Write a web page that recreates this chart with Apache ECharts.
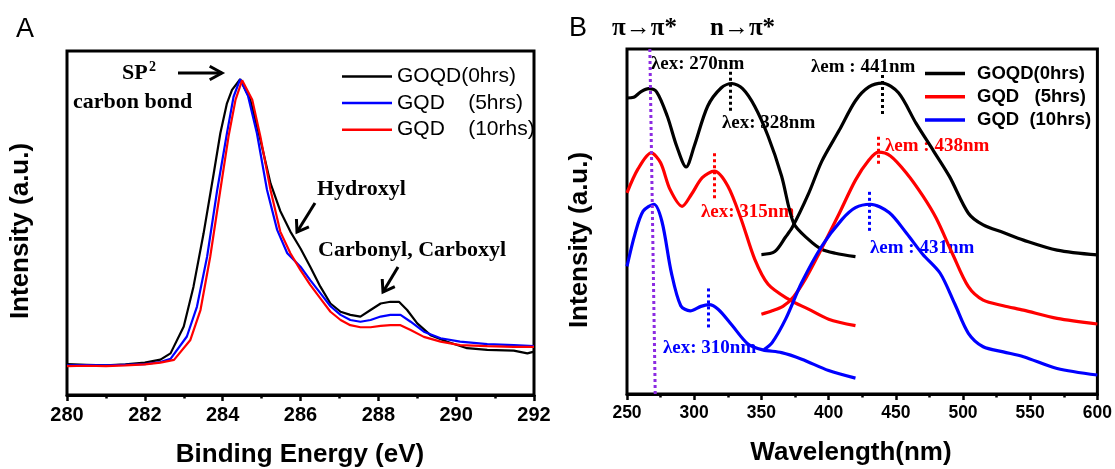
<!DOCTYPE html>
<html><head><meta charset="utf-8">
<script src="https://cdn.jsdelivr.net/npm/echarts/dist/echarts.min.js"></script>
<style>html,body{margin:0;padding:0;background:#fff}#c{width:1115px;height:469px}</style>
</head><body><div id="c"></div>
<script>
// ---------- Panel A : XPS C1s ----------
const aTicks = [280, 282, 284, 286, 288, 290, 292];
const aNames = ['GOQD(0hrs)', 'GQD    (5hrs)', 'GQD    (10rhs)'];
const aEnergyBlack = [280, 280.5, 281, 281.5, 282, 282.4, 282.66, 283.0, 283.25, 283.51, 283.77, 283.94, 284.11, 284.24, 284.45, 284.71, 284.97, 285.23, 285.48, 285.74, 286.0, 286.25, 286.51, 286.77, 287.03, 287.28, 287.54, 287.8, 288.06, 288.31, 288.53, 288.74, 289.0, 289.34, 289.77, 290.28, 290.8, 291.48, 291.83, 292];
const aIntBlack    = [9.0, 8.8, 8.6, 8.9, 9.4, 10.3, 12.1, 19.9, 31.5, 47, 64.4, 76.1, 84.8, 88.7, 91.8, 85.8, 74.1, 61.5, 53.5, 47.5, 42.6, 37.3, 31.5, 26.6, 24.2, 23.3, 22.8, 24.7, 26.6, 27.1, 27.1, 24.7, 20.8, 17.4, 15.5, 13.6, 13.1, 12.9, 12.1, 12.6];
const aEnergyBlue  = [280, 280.5, 281, 281.5, 282, 282.4, 282.66, 283.08, 283.34, 283.6, 283.86, 284.11, 284.28, 284.45, 284.65, 284.88, 285.14, 285.4, 285.66, 286.0, 286.25, 286.51, 286.77, 287.03, 287.28, 287.54, 287.8, 288.06, 288.31, 288.57, 288.83, 289.17, 289.6, 290.1, 290.8, 291.48, 292];
const aIntBlue     = [8.6, 8.7, 8.6, 8.8, 9.0, 9.6, 10.5, 17, 25.7, 40.2, 59.6, 76.1, 86.7, 91.8, 87.0, 76.1, 59.6, 48, 41.2, 37.3, 33.4, 29.6, 25.8, 23.3, 21.8, 21.3, 21.8, 22.8, 23.3, 23.3, 21.3, 18.4, 16.5, 15.5, 14.8, 14.5, 14.2];
const aEnergyRed   = [280, 280.5, 281, 281.5, 282, 282.4, 282.75, 283.17, 283.43, 283.68, 283.94, 284.15, 284.33, 284.5, 284.76, 284.97, 285.23, 285.48, 285.74, 286.0, 286.25, 286.51, 286.77, 287.03, 287.28, 287.54, 287.8, 288.06, 288.31, 288.57, 288.83, 289.17, 289.6, 290.1, 290.8, 291.48, 292];
const aIntRed      = [8.4, 8.5, 8.4, 8.6, 8.9, 9.4, 10.2, 16, 24.7, 40.2, 59.6, 75.1, 85.8, 91.5, 85.8, 75.1, 59.6, 47.5, 41.2, 36.3, 32, 28.1, 24.2, 21.8, 20.3, 19.7, 19.7, 20.1, 20.3, 20.3, 18.9, 16.9, 15.5, 14.5, 14.2, 14.0, 14.0];

// ---------- Panel B : PLE / PL ----------
const bTicks = [250, 300, 350, 400, 450, 500, 550, 600];
const bNames = ['GOQD(0hrs)', 'GQD   (5hrs)', 'GQD  (10hrs)'];
const bWaveExBlack = [250, 255, 260, 266, 272, 280, 287, 294, 300, 310, 320, 328, 336, 345, 355, 365, 374, 385, 395, 405, 420];
const bIntExBlack  = [85.8, 86.0, 87.5, 88.5, 87.6, 80.5, 71.8, 65.8, 71.8, 83.4, 88.7, 90.0, 88.5, 83.4, 74.7, 63.2, 49.5, 44.8, 41.9, 40.8, 39.8];
const bWaveEmBlack = [350, 360, 368, 373, 385, 395, 408, 420, 430, 440, 452, 465, 478, 490, 504, 515, 530, 545, 570, 600];
const bIntEmBlack  = [40.4, 41.3, 45.5, 48.3, 58.0, 67.5, 76.5, 85.0, 89.0, 90.1, 87.3, 78.5, 70.5, 63.0, 52.4, 49.0, 46.8, 44.6, 41.7, 40.3];
const bWaveExRed   = [250, 258, 268, 275, 282, 291, 298, 306, 315, 325, 335, 345, 355, 370, 385, 400, 420];
const bIntExRed    = [58.3, 65.1, 69.9, 67.0, 59.3, 54.4, 57.9, 62.7, 64.6, 60.3, 50.6, 39.1, 31.8, 27.5, 24.6, 21.7, 19.8];
const bWaveEmRed   = [350, 358, 366, 374, 383, 393, 408, 420, 430, 437, 446, 458, 470, 480, 492, 504, 515, 530, 545, 570, 600];
const bIntEmRed    = [23.1, 24.1, 25.4, 28.2, 33.5, 40.8, 52.4, 62.0, 67.8, 70.1, 69.0, 64.0, 57.5, 51.0, 40.8, 31.1, 27.2, 25.6, 24.3, 21.9, 20.3];
const bWaveExBlue  = [250, 256, 262, 270, 276, 283, 290, 297, 305, 311, 318, 328, 340, 351, 365, 380, 400, 420];
const bIntExBlue   = [37.0, 46.5, 53.0, 55.0, 50.0, 35.2, 25.6, 24.1, 25.4, 25.9, 24.5, 20.0, 14.5, 12.8, 12.0, 10.1, 6.8, 4.6];
const bWaveEmBlue  = [352, 358, 368, 380, 395, 410, 420, 431, 445, 458, 470, 483, 494, 504, 515, 530, 545, 570, 600];
const bIntEmBlue   = [12.9, 14.9, 21.7, 32.3, 42.9, 50.6, 54.0, 55.0, 52.6, 46.6, 40.5, 35.0, 26.0, 17.6, 13.7, 12.2, 10.8, 7.4, 5.5];

// peak marker lines (wavelength, top, bottom)
const markBlackWave = [327, 440];   const markBlackTop = [93.4, 92.5]; const markBlackBot = [81.4, 80.4];
const markRedWave   = [314.6, 437.3]; const markRedTop = [69.8, 74.6]; const markRedBot = [56.2, 66.4];
const markBlueWave  = [310.4, 430];  const markBlueTop = [30.6, 58.6]; const markBlueBot = [19.0, 46.6];
const markPurpleWave = [267, 271];   const markPurpleInt = [100, 0];

const zip = (xs, ys) => xs.map((x, i) => [x, ys[i]]);
const BLACK = '#000000', RED = '#ff0000', BLUE = '#0000ff', PURPLE = '#8c2be2';
const SANS = 'Liberation Sans', SERIF = 'Liberation Serif';

function vMarks(xs, tops, bots) {
  return xs.map((x, i) => [{ coord: [x, tops[i]] }, { coord: [x, bots[i]] }]);
}
function markLineOf(data, color) {
  return { silent: true, symbol: 'none', label: { show: false },
    lineStyle: { color: color, width: 3, type: [3, 3] }, data: data, animation: false };
}

function arrow(x1, y1, x2, y2, h, spread) {
  const ang = Math.atan2(y2 - y1, x2 - x1);
  const p1 = [x2 + h * Math.cos(ang + Math.PI - spread), y2 + h * Math.sin(ang + Math.PI - spread)];
  const p2 = [x2 + h * Math.cos(ang + Math.PI + spread), y2 + h * Math.sin(ang + Math.PI + spread)];
  return [
    { type: 'line', shape: { x1, y1, x2, y2 }, style: { stroke: '#000', lineWidth: 3 } },
    { type: 'polyline', shape: { points: [p1, [x2, y2], p2] }, style: { stroke: '#000', lineWidth: 3, fill: null, lineJoin: 'miter' } }
  ];
}
function txt(x, y, text, font, color, align, rot) {
  return { type: 'text', x, y, rotation: rot || 0, style: { text, font, fill: color || '#000',
    align: align || 'left', verticalAlign: 'middle' } };
}

const serifB = s => 'bold ' + s + 'px "' + SERIF + '"';
const sansB = s => 'bold ' + s + 'px "' + SANS + '"';

const graphics = [
  txt(25, 30, 'A', '27px "' + SANS + '"', '#000', 'center'),
  txt(578, 29, 'B', '27px "' + SANS + '"', '#000', 'center'),
  txt(122, 73, 'SP', serifB(22)),
  txt(149, 67, '2', serifB(14)),
  txt(73, 102, 'carbon bond', serifB(22)),
  txt(317, 189, 'Hydroxyl', serifB(22)),
  txt(318, 250, 'Carbonyl, Carboxyl', serifB(22)),
  txt(300, 455, 'Binding Energy (eV)', sansB(26), '#000', 'center'),
  txt(21, 231, 'Intensity (a.u.)', sansB(26), '#000', 'center', Math.PI / 2),
  txt(851, 453, 'Wavelength(nm)', sansB(26), '#000', 'center'),
  txt(580, 240, 'Intensity (a.u.)', sansB(26), '#000', 'center', Math.PI / 2),
  txt(612, 29, 'π→π*', serifB(25)),
  txt(710, 29, 'n→π*', serifB(25)),
  txt(651, 64, 'λex: 270nm', serifB(19)),
  txt(722, 123, 'λex: 328nm', serifB(19)),
  txt(811, 67, 'λem : 441nm', serifB(19)),
  txt(701, 212, 'λex: 315nm', serifB(19), RED),
  txt(885, 146, 'λem : 438nm', serifB(19), RED),
  txt(870, 248, 'λem : 431nm', serifB(19), BLUE),
  txt(663, 348, 'λex: 310nm', serifB(19), BLUE)
].concat(arrow(178, 73, 222, 73, 14, 0.5))
 .concat(arrow(315, 203, 297, 232, 13, 0.6))
 .concat(arrow(398, 267, 383, 292, 13, 0.6));

function xAxisCfg(gi, min, max, interval, fs) {
  return { gridIndex: gi, type: 'value', min, max, interval,
    axisLine: { show: true, onZero: false, lineStyle: { color: '#000', width: 3 } },
    axisTick: { show: true, inside: false, length: 6, lineStyle: { color: '#000', width: 2.5 } },
    minorTick: { show: true, splitNumber: 2, length: 3.5, lineStyle: { color: '#000', width: 2.5 } },
    splitLine: { show: false }, minorSplitLine: { show: false },
    axisLabel: { color: '#000', fontFamily: SANS, fontWeight: 'bold', fontSize: fs, margin: 10 } };
}
function yAxisCfg(gi) {
  return { gridIndex: gi, type: 'value', min: 0, max: 100,
    axisLine: { show: false }, axisTick: { show: false }, axisLabel: { show: false }, splitLine: { show: false } };
}
function lineSeries(name, xi, data, color, width, smooth, extra) {
  return Object.assign({ name, type: 'line', xAxisIndex: xi, yAxisIndex: xi, data, symbol: 'none', showSymbol: false,
    smooth: smooth, color: color, lineStyle: { color, width }, animation: false, z: 3 }, extra || {});
}

const option = {
  backgroundColor: '#fff',
  animation: false,
  grid: [
    { left: 67, top: 51, width: 467, height: 344, show: true, borderColor: '#000', borderWidth: 3, backgroundColor: 'transparent' },
    { left: 627, top: 49, width: 471, height: 345, show: true, borderColor: '#000', borderWidth: 3, backgroundColor: 'transparent' }
  ],
  xAxis: [xAxisCfg(0, aTicks[0], aTicks[aTicks.length - 1], 2, 20), xAxisCfg(1, bTicks[0], bTicks[bTicks.length - 1], 50, 17.5)],
  yAxis: [yAxisCfg(0), yAxisCfg(1)],
  legend: [
    { data: aNames, orient: 'vertical', left: 337, top: 61, itemWidth: 50, itemHeight: 2.5, itemGap: 5.6, icon: 'rect',
      selectedMode: false, textStyle: { fontFamily: SANS, fontSize: 21, color: '#000' } },
    { data: bNames, orient: 'vertical', left: 920, top: 59, itemWidth: 40, itemHeight: 3.5, itemGap: 4.3, icon: 'rect',
      selectedMode: false, textStyle: { fontFamily: SANS, fontWeight: 'bold', fontSize: 18.5, color: '#000', padding: [0, 0, 0, 7] } }
  ],
  graphic: graphics,
  series: [
    lineSeries(aNames[0], 0, zip(aEnergyBlack, aIntBlack), BLACK, 2.2, false),
    lineSeries(aNames[1], 0, zip(aEnergyBlue, aIntBlue), BLUE, 2.2, false),
    lineSeries(aNames[2], 0, zip(aEnergyRed, aIntRed), RED, 2.2, false),
    lineSeries(bNames[0], 1, zip(bWaveExBlack, bIntExBlack), BLACK, 3.2, 0.3,
      { markLine: markLineOf(vMarks(markBlackWave, markBlackTop, markBlackBot), BLACK) }),
    lineSeries(bNames[0], 1, zip(bWaveEmBlack, bIntEmBlack), BLACK, 3.2, 0.3),
    lineSeries(bNames[1], 1, zip(bWaveExRed, bIntExRed), RED, 3.2, 0.3,
      { markLine: markLineOf(vMarks(markRedWave, markRedTop, markRedBot), RED) }),
    lineSeries(bNames[1], 1, zip(bWaveEmRed, bIntEmRed), RED, 3.2, 0.3),
    lineSeries(bNames[2], 1, zip(bWaveExBlue, bIntExBlue), BLUE, 3.2, 0.3,
      { markLine: markLineOf(vMarks(markBlueWave, markBlueTop, markBlueBot), BLUE) }),
    lineSeries(bNames[2], 1, zip(bWaveEmBlue, bIntEmBlue), BLUE, 3.2, 0.3,
      { markLine: markLineOf([[{ coord: [markPurpleWave[0], markPurpleInt[0]] }, { coord: [markPurpleWave[1], markPurpleInt[1]] }]], PURPLE) })
  ]
};
const chart = echarts.init(document.getElementById('c'), null, { renderer: 'canvas' });
chart.setOption(option);
</script></body></html>
